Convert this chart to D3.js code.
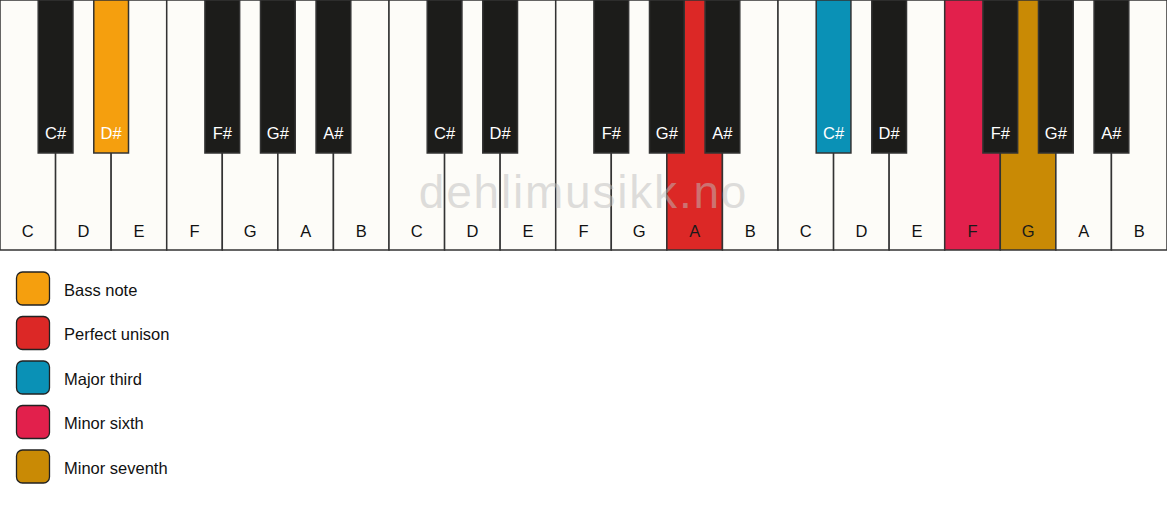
<!DOCTYPE html>
<html>
<head>
<meta charset="utf-8">
<script src="https://cdn.jsdelivr.net/npm/d3@7"></script>
<style>
  html, body { margin: 0; padding: 0; background: #ffffff; }
  svg { display: block; }
  text { font-family: "Liberation Sans", Arial, sans-serif; }
</style>
</head>
<body>
<svg id="chart" width="1167" height="506"></svg>
<script>
// ---- data ----
const octaves = [1, 2, 3];
const whiteNotes = ["C", "D", "E", "F", "G", "A", "B"];
const blackNotes = ["C#", "D#", "F#", "G#", "A#"];
const blackAfterWhite = [0, 1, 3, 4, 5]; // black key sits after this white key in the octave
const highlightKeys = ["D#1", "A2", "C#3", "F3", "G3"];
const highlightIntervals = ["Bass note", "Perfect unison", "Major third", "Minor sixth", "Minor seventh"];
const legendLabels = ["Bass note", "Perfect unison", "Major third", "Minor sixth", "Minor seventh"];
const legendColors = ["#f59f0e", "#dc2826", "#0a91b6", "#e2204c", "#c98a05"];
const watermark = "dehlimusikk.no";

// ---- build ----
const colorOf = d3.scaleOrdinal().domain(legendLabels).range(legendColors);
const hl = new Map(highlightKeys.map((k, i) => [k, highlightIntervals[i]]));

const whites = [];
octaves.forEach((o, oi) => whiteNotes.forEach((n, ni) => whites.push({ id: n + o, name: n, idx: oi * 7 + ni })));
const blacks = [];
octaves.forEach((o, oi) => blackNotes.forEach((n, ni) => blacks.push({ id: n + o, name: n, idx: oi * 7 + blackAfterWhite[ni] })));

const width = 1167, kbHeight = 250, blackH = 153;
const svg = d3.select("#chart");

const x = d3.scaleBand().domain(d3.range(whites.length)).range([0, width]).padding(0);
const W = x.bandwidth();
const bw = W * 0.625;

const kb = svg.append("g");

// white keys
const wg = kb.selectAll("g.white").data(whites).join("g").attr("class", "white");
wg.append("rect")
  .attr("x", d => x(d.idx)).attr("y", 0)
  .attr("width", W).attr("height", kbHeight)
  .attr("fill", d => hl.has(d.id) ? colorOf(hl.get(d.id)) : "#fdfcf8")
  .attr("stroke", "#333").attr("stroke-width", 1.5);

// watermark (between white and black keys)
kb.append("text")
  .attr("x", width / 2).attr("y", 208)
  .attr("text-anchor", "middle")
  .attr("font-size", 46).attr("letter-spacing", 1.8)
  .attr("fill", "#bdbdbd").attr("fill-opacity", 0.5)
  .text(watermark);

wg.append("text")
  .attr("x", d => x(d.idx) + W / 2).attr("y", 237)
  .attr("text-anchor", "middle").attr("font-size", 16.5)
  .attr("fill", d => hl.has(d.id) ? "#1a1a1a" : "#111")
  .text(d => d.name);

// black keys
const bg = kb.selectAll("g.black").data(blacks).join("g").attr("class", "black");
bg.append("rect")
  .attr("x", d => x(d.idx) + W - bw / 2).attr("y", 0)
  .attr("width", bw).attr("height", blackH)
  .attr("fill", d => hl.has(d.id) ? colorOf(hl.get(d.id)) : "#1c1c1a")
  .attr("stroke", "#333").attr("stroke-width", 1.5);
bg.append("text")
  .attr("x", d => x(d.idx) + W).attr("y", 139)
  .attr("text-anchor", "middle").attr("font-size", 16.5)
  .attr("fill", "#fff")
  .text(d => d.name);

// legend
const ly = d3.scalePoint().domain(legendLabels).range([289, 467]);
const lg = svg.append("g").selectAll("g").data(legendLabels).join("g")
  .attr("transform", d => `translate(0,${ly(d)})`);
lg.append("rect")
  .attr("x", 16.5).attr("y", -17).attr("width", 33).attr("height", 33)
  .attr("rx", 6).attr("ry", 6)
  .attr("fill", d => colorOf(d))
  .attr("stroke", "#222").attr("stroke-width", 1.3);
lg.append("text")
  .attr("x", 64).attr("y", 1).attr("dy", "0.35em")
  .attr("font-size", 16.5).attr("fill", "#111")
  .text(d => d);
</script>
</body>
</html>
